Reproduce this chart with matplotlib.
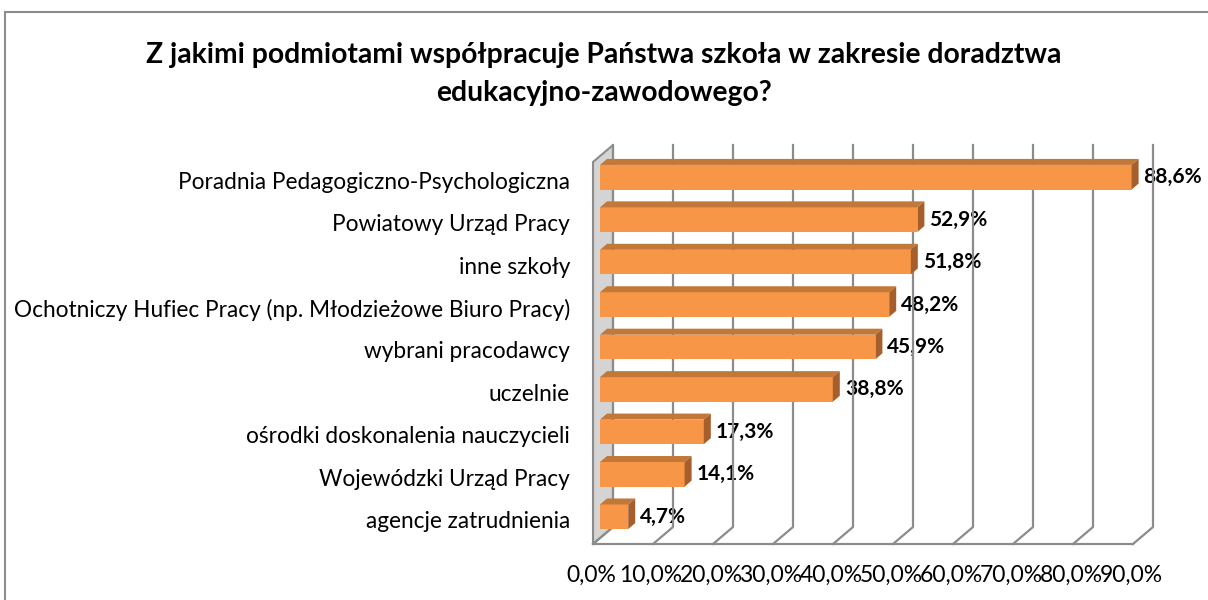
""" Wspolpraca szkol - wykres slupkowy 3D (styl Excel)

"""

import matplotlib
matplotlib.use("Agg")
import numpy as np
import matplotlib.pyplot as plt
import matplotlib.transforms as mtransforms
from matplotlib.patches import Polygon, Rectangle


# --------------------------------------------------
#   Data
# --------------------------------------------------

categories = [
    "Poradnia Pedagogiczno-Psychologiczna",
    "Powiatowy Urząd Pracy",
    "inne szkoły",
    "Ochotniczy Hufiec Pracy (np. Młodzieżowe Biuro Pracy)",
    "wybrani pracodawcy",
    "uczelnie",
    "ośrodki doskonalenia nauczycieli",
    "Wojewódzki Urząd Pracy",
    "agencje zatrudnienia",
]
values = [88.6, 52.9, 51.8, 48.2, 45.9, 38.8, 17.3, 14.1, 4.7]
value_labels = ["88,6%", "52,9%", "51,8%", "48,2%", "45,9%", "38,8%", "17,3%", "14,1%", "4,7%"]
x_ticks = [0, 10, 20, 30, 40, 50, 60, 70, 80, 90]
x_tick_labels = ["0,0%", "10,0%", "20,0%", "30,0%", "40,0%", "50,0%", "60,0%", "70,0%", "80,0%", "90,0%"]
title = "Z jakimi podmiotami współpracuje Państwa szkoła w zakresie doradztwa\nedukacyjno-zawodowego?"


# --------------------------------------------------
#   Style
# --------------------------------------------------

FONT = ["Lato", "DejaVu Sans"]
FRONT = "#F79646"
TOP = "#C27838"
SIDE = "#A65F2C"
GRID = "#8C8C8C"

# 3D offsets in pixels (display coords, y up)
BAR_DEPTH = (7, 6)
BACK = (13, 11)
FRONT_PLANE = (-7, -6)

plt.rcParams["font.family"] = FONT

fig = plt.figure(figsize=(12.08, 6.0), dpi=100)
W, H = 1208, 600
# axes = front plane of the bars
ax = fig.add_axes([600 / W, 1 - 538 / H, 540 / W, 382 / H])
ax.set_xlim(0, 90)
ax.set_ylim(len(categories) - 0.5, -0.5)
ax.axis("off")

ident = mtransforms.IdentityTransform()


def to_px(x, y):
    return ax.transData.transform((x, y))


def shifted(pt, off):
    return (pt[0] + off[0], pt[1] + off[1])


def add_poly(pts, **kw):
    ax.add_patch(Polygon(pts, closed=True, transform=ident, clip_on=False, **kw))


def add_line(xs, ys, **kw):
    ax.add_line(plt.Line2D(xs, ys, transform=ident, clip_on=False, **kw))


# --------------------------------------------------
#   Walls and floor
# --------------------------------------------------

y_top, y_bot = -0.5, len(categories) - 0.5

# left wall
lw_pts = [
    shifted(to_px(0, y_top), FRONT_PLANE),
    shifted(to_px(0, y_top), BACK),
    shifted(to_px(0, y_bot), BACK),
    shifted(to_px(0, y_bot), FRONT_PLANE),
]
add_poly(lw_pts, facecolor="#D4D4D4", edgecolor=GRID, linewidth=1.5, zorder=1)

# back gridlines + floor lines
for t in x_ticks:
    top_b = shifted(to_px(t, y_top), BACK)
    bot_b = shifted(to_px(t, y_bot), BACK)
    bot_f = shifted(to_px(t, y_bot), FRONT_PLANE)
    add_line([top_b[0], bot_b[0], bot_f[0]], [top_b[1], bot_b[1], bot_f[1]],
             color=GRID, linewidth=1.6, zorder=2)

f0 = shifted(to_px(0, y_bot), FRONT_PLANE)
f1 = shifted(to_px(x_ticks[-1], y_bot), FRONT_PLANE)
add_line([f0[0], f1[0]], [f0[1], f1[1]], color=GRID, linewidth=1.6, zorder=2)

# --------------------------------------------------
#   Bars
# --------------------------------------------------

y_pos = np.arange(len(categories))
bar_h = 0.58
ax.barh(y_pos, values, height=bar_h, color=FRONT, zorder=5)

for y, v, lab in zip(y_pos, values, value_labels):
    tl = to_px(0, y - bar_h / 2)
    tr = to_px(v, y - bar_h / 2)
    br = to_px(v, y + bar_h / 2)
    top_face = [tl, tr, shifted(tr, BAR_DEPTH), shifted(tl, BAR_DEPTH)]
    side_face = [tr, br, shifted(br, BAR_DEPTH), shifted(tr, BAR_DEPTH)]
    add_poly(top_face, facecolor=TOP, edgecolor="none", zorder=5)
    add_poly(side_face, facecolor=SIDE, edgecolor="none", zorder=5)
    ax.annotate(lab, xy=(v, y), xytext=(12, 0), textcoords="offset pixels",
                ha="left", va="center", fontsize=15, fontweight="bold", color="black",
                zorder=1, annotation_clip=False)

# category labels
for y, cat in zip(y_pos, categories):
    ax.annotate(cat, xy=(0, y), xytext=(-30, -5), textcoords="offset pixels",
                ha="right", va="center", fontsize=16.3, color="black",
                annotation_clip=False)

# x tick labels (under front floor edge)
for t, lab in zip(x_ticks, x_tick_labels):
    ax.annotate(lab, xy=(t, y_bot), xytext=(-9, -37), textcoords="offset pixels",
                ha="center", va="center", fontsize=16.5, color="black",
                annotation_clip=False)

# --------------------------------------------------
#   Title and frame
# --------------------------------------------------

fig.text(0.5, 1 - 74 / H, title, ha="center", va="center", fontsize=20.3,
         fontweight="bold", linespacing=1.6)

fig.patches.append(Rectangle((5 / W, -0.1), 1.2, 1 - 12 / H + 0.1, transform=fig.transFigure,
                             facecolor="none", edgecolor=GRID, linewidth=1.5, zorder=0))

fig.savefig("out.png", dpi=100)
